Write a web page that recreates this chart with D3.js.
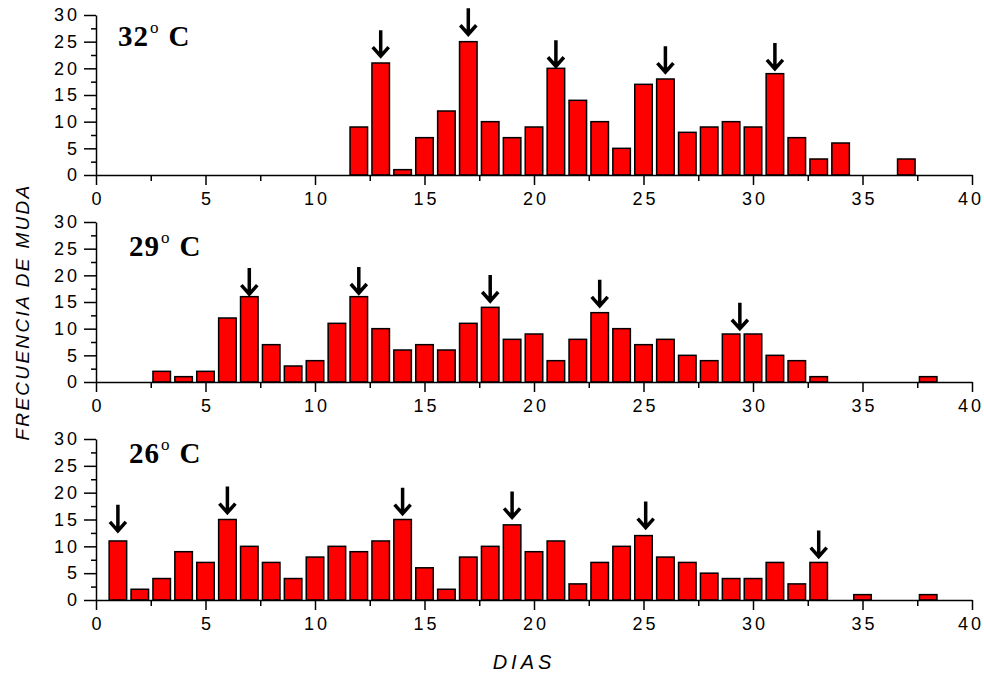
<!DOCTYPE html>
<html lang="es">
<head>
<meta charset="utf-8">
<title>Frecuencia de muda</title>
<script src="https://d3js.org/d3.v7.min.js"></script>
<style>
  body { margin: 0; background: #fff; }
  svg { display: block; }
  .tick text { font-family: "Liberation Sans", Arial, sans-serif; font-size: 18px; letter-spacing: 3px; fill: #000; }
  .domain, .tick line { stroke: #000; stroke-width: 1.5px; }
  .bar { fill: #ff0000; stroke: #000; stroke-width: 1.5px; }
  .flecha { fill: none; stroke: #000; stroke-width: 3.5px; stroke-linecap: butt; stroke-linejoin: miter; }
  .temp { font-family: "Liberation Serif", "Times New Roman", serif; font-weight: bold; font-size: 29px; letter-spacing: 1px; }
  .titulo { font-family: "Liberation Sans", Arial, sans-serif; font-style: italic; font-size: 19px; }
</style>
</head>
<body>
<svg width="984" height="675"></svg>
<script>
// dias y frecuencias de muda por temperatura
var dias32 = [12, 13, 14, 15, 16, 17, 18, 19, 20, 21, 22, 23, 24, 25, 26, 27, 28, 29, 30, 31, 32, 33, 34, 37];
var frec32 = [9, 21, 1, 7, 12, 25, 10, 7, 9, 20, 14, 10, 5, 17, 18, 8, 9, 10, 9, 19, 7, 3, 6, 3];
var flechas32 = [13, 17, 21, 26, 31];
var puntas32 = [22.1, 26.2, 20.2, 19.1, 19.7];

var dias29 = [3, 4, 5, 6, 7, 8, 9, 10, 11, 12, 13, 14, 15, 16, 17, 18, 19, 20, 21, 22, 23, 24, 25, 26, 27, 28, 29, 30, 31, 32, 33, 38];
var frec29 = [2, 1, 2, 12, 16, 7, 3, 4, 11, 16, 10, 6, 7, 6, 11, 14, 8, 9, 4, 8, 13, 10, 7, 8, 5, 4, 9, 9, 5, 4, 1, 1];
var flechas29 = [7, 12, 18, 23, 29.4];
var puntas29 = [16.3, 16.5, 15.0, 14.1, 9.8];

var dias26 = [1, 2, 3, 4, 5, 6, 7, 8, 9, 10, 11, 12, 13, 14, 15, 16, 17, 18, 19, 20, 21, 22, 23, 24, 25, 26, 27, 28, 29, 30, 31, 32, 33, 35, 38];
var frec26 = [11, 2, 4, 9, 7, 15, 10, 7, 4, 8, 10, 9, 11, 15, 6, 2, 8, 10, 14, 9, 11, 3, 7, 10, 12, 8, 7, 5, 4, 4, 7, 3, 7, 1, 1];
var flechas26 = [1, 6, 14, 19, 25.1, 33];
var puntas26 = [12.7, 16.1, 15.9, 15.2, 13.3, 7.9];

var temperaturas = ['32', '29', '26'];

var svg = d3.select('svg');

var x = d3.scaleLinear().domain([0, 40]).range([96, 972]);

// posicion de cada panel (pixeles)
var paneles = [
  { dias: dias32, frec: frec32, flechas: flechas32, puntas: puntas32, top: 15, bottom: 175, lx: 118, ly: 46 },
  { dias: dias29, frec: frec29, flechas: flechas29, puntas: puntas29, top: 222, bottom: 382, lx: 129, ly: 256 },
  { dias: dias26, frec: frec26, flechas: flechas26, puntas: puntas26, top: 439, bottom: 600, lx: 129, ly: 463 }
];

var barW = (x(1) - x(0)) * 0.8;

paneles.forEach(function(p, i) {
  var y = d3.scaleLinear().domain([0, 30]).range([p.bottom, p.top]);
  var g = svg.append('g');

  // barras
  g.selectAll('rect')
    .data(p.dias)
    .enter()
    .append('rect')
    .attr('class', 'bar')
    .attr('x', function(d) { return x(d) - barW / 2; })
    .attr('y', function(d, j) { return y(p.frec[j]); })
    .attr('width', barW)
    .attr('height', function(d, j) { return y(0) - y(p.frec[j]); });

  // eje x
  var ax = g.append('g')
    .attr('transform', 'translate(0,' + p.bottom + ')')
    .call(d3.axisBottom(x)
      .tickValues(d3.range(0, 40.1, 2.5))
      .tickSize(10)
      .tickSizeOuter(0)
      .tickPadding(7)
      .tickFormat(function(d) { return d % 5 === 0 ? d : ''; }));
  ax.selectAll('.tick line').attr('y2', function(d) { return d % 5 === 0 ? 10 : 6; });
  // el ultimo rotulo queda pegado al borde
  ax.selectAll('.tick text').attr('dx', function(d) { return d === 40 ? -1.5 : 1.5; });

  // eje y
  var ay = g.append('g')
    .attr('transform', 'translate(' + x(0) + ',0)')
    .call(d3.axisLeft(y)
      .tickValues(d3.range(0, 30.1, 2.5))
      .tickSize(12)
      .tickSizeOuter(0)
      .tickPadding(4)
      .tickFormat(function(d) { return d % 5 === 0 ? d : ''; }));
  ay.selectAll('.tick line').attr('x2', function(d) { return d % 5 === 0 ? -12 : -5; });

  // flechas
  g.selectAll('path.flecha')
    .data(p.flechas)
    .enter()
    .append('path')
    .attr('class', 'flecha')
    .attr('d', function(d, j) {
      var px = x(d), tip = y(p.puntas[j]);
      return 'M' + px + ',' + (tip - 27) + 'V' + (tip - 2) +
        'M' + (px - 8) + ',' + (tip - 10) + 'L' + px + ',' + (tip - 1) + 'L' + (px + 8) + ',' + (tip - 10);
    });

  // etiqueta de temperatura
  var t = g.append('text')
    .attr('class', 'temp')
    .attr('x', p.lx)
    .attr('y', p.ly);
  t.append('tspan').text(temperaturas[i]);
  t.append('tspan').attr('font-size', 17).attr('font-weight', 'normal').attr('dy', -13).attr('dx', 1).text('o');
  t.append('tspan').attr('dy', 13).attr('dx', 9).text('C');
});

// titulos de ejes
svg.append('text')
  .attr('class', 'titulo')
  .attr('transform', 'translate(29,312) rotate(-90)')
  .attr('text-anchor', 'middle')
  .style('letter-spacing', '2.3px')
  .text('FRECUENCIA DE MUDA');

svg.append('text')
  .attr('class', 'titulo')
  .attr('x', 524)
  .attr('y', 669)
  .attr('text-anchor', 'middle')
  .style('font-size', '20px')
  .style('letter-spacing', '4px')
  .text('DIAS');
</script>
</body>
</html>
